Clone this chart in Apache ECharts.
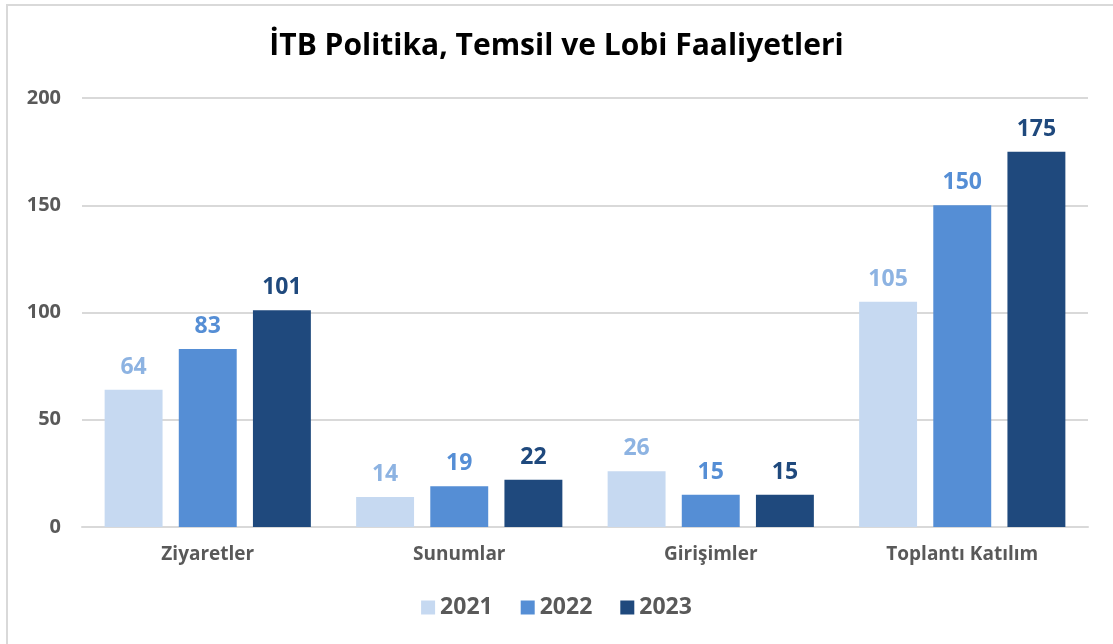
<!DOCTYPE html>
<html>
<head>
<meta charset="utf-8">
<script src="https://cdn.jsdelivr.net/npm/echarts@6/dist/echarts.min.js"></script>
<style>
  html, body { margin: 0; padding: 0; background: #fff; }
  #main { width: 1113px; height: 644px; }
  #frame { position: absolute; left: 6px; top: 4px; width: 1200px; height: 700px;
           border-left: 2px solid #d9d9d9; border-top: 2px solid #d9d9d9; pointer-events: none; }
</style>
</head>
<body>
<div id="main"></div>
<div id="frame"></div>
<script>
  var categories = ['Ziyaretler', 'Sunumlar', 'Girişimler', 'Toplantı Katılım'];
  var years = ['2021', '2022', '2023'];
  var v2021 = [64, 14, 26, 105];
  var v2022 = [83, 19, 15, 150];
  var v2023 = [101, 22, 15, 175];
  var yTicks = { min: 0, max: 200, interval: 50 };

  var barColors = ['#c6d9f1', '#558ed5', '#1f497d'];
  var labelColors = ['#8db3e2', '#558ed5', '#1f497d'];
  var font = '"Open Sans", "Noto Sans", sans-serif';

  function makeSeries(name, data, i) {
    return {
      name: name,
      type: 'bar',
      data: data,
      barGap: '28%',
      barCategoryGap: '18%',
      itemStyle: { color: barColors[i] },
      label: {
        show: true,
        position: 'top',
        distance: 11,
        color: labelColors[i],
        fontFamily: font,
        fontWeight: 'bold',
        fontSize: 23
      }
    };
  }

  var myChart = echarts.init(document.getElementById('main'));
  var option = {
    animation: false,
    title: {
      text: 'İTB Politika, Temsil ve Lobi Faaliyetleri',
      left: 'center',
      top: 26,
      textStyle: { fontFamily: font, fontWeight: 'bold', fontSize: 30, color: '#000' }
    },
    legend: {
      bottom: 20,
      left: 'center',
      itemWidth: 14,
      itemHeight: 14,
      itemGap: 28,
      icon: 'rect',
      textStyle: { fontFamily: font, fontWeight: 'bold', fontSize: 23, color: '#595959' },
      data: years
    },
    grid: { left: 82, right: 25, top: 98, bottom: 117 },
    xAxis: {
      type: 'category',
      data: categories,
      axisLine: { lineStyle: { color: '#d9d9d9', width: 2 } },
      axisTick: { show: false },
      axisLabel: { margin: 18, fontFamily: font, fontWeight: 'bold', fontSize: 19, color: '#595959' }
    },
    yAxis: {
      type: 'value',
      min: yTicks.min,
      max: yTicks.max,
      interval: yTicks.interval,
      axisLine: { show: false },
      axisTick: { show: false },
      splitLine: { lineStyle: { color: '#d9d9d9', width: 2 } },
      axisLabel: { margin: 21, fontFamily: font, fontWeight: 'bold', fontSize: 20, color: '#595959' }
    },
    series: [
      makeSeries(years[0], v2021, 0),
      makeSeries(years[1], v2022, 1),
      makeSeries(years[2], v2023, 2)
    ]
  };
  myChart.setOption(option);
</script>
</body>
</html>
